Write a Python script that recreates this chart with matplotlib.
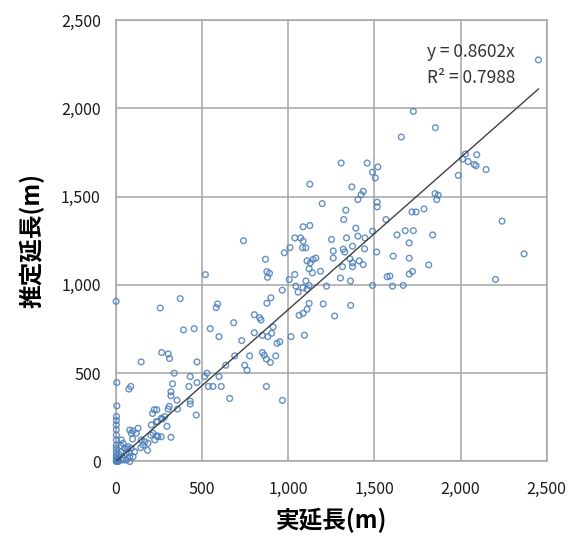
import numpy as np
import matplotlib
matplotlib.use("Agg")
import matplotlib.pyplot as plt
from matplotlib.ticker import FuncFormatter

plt.rcParams['font.family'] = ['Noto Sans CJK JP', 'DejaVu Sans']

actual = [
    # left column near x=0
    1, 5, 5, 3, 2, 2, 2, 2, 2, 2, 2, 2, 2, 2, 2, 2,
    # low cluster
    12, 21, 31, 41, 60, 80, 31, 41, 50, 70, 89, 108, 60, 80, 99, 28, 18, 67, 77, 10, 5, 15, 40,
    80, 99, 128, 118, 89, 147, 167, 186, 157, 215, 244, 263, 225, 205, 234, 263, 283, 202, 237, 144, 183, 96,
    # zoom 4 others
    86, 75, 338, 431, 470, 423, 328, 319, 319, 354, 431, 431, 309, 303, 357, 222, 237, 212, 466, 270, 296, 319, 241,
    # zoom 1 extras
    257, 373, 392, 265, 303, 311, 146, 660, 966,
    # zoom 5
    454, 582, 590, 547, 598, 683, 470, 730, 803, 834, 842, 876, 899, 965, 912, 904, 881, 850, 803, 935,
    776, 689, 637, 747, 761, 850, 861, 873, 896, 927, 528, 514, 598, 563, 536, 611, 873,
    # zoom 7
    740, 519, 868, 977, 876, 891, 880,
    # zoom 6
    1125, 1369, 1435, 1423, 1404, 1516, 1516, 1197, 1334, 1322, 1086, 1125, 1392, 1489, 1038, 1071, 1086,
    1251, 1338, 1404, 1445, 1010, 1083, 1102, 1261, 1319, 1328, 1373, 1443, 1513, 1261, 1109, 1128, 1144,
    1160, 1358, 1373, 1412, 1435, 1315, 1373, 1121, 1140, 1187, 1038, 1006, 1102, 1121, 1086, 1303, 1361,
    1044, 1057, 1109, 1222, 1489,
    # zoom 2
    1726, 1854, 1656, 1307, 1458, 1520, 1489, 1505, 1852, 1870, 1862, 1788, 1718, 1742, 1567, 1631, 1679,
    1726, 1838, 1702, 1609, 1702, 1815, 1702, 1721, 1574, 1590, 1605, 1667, 1121, 1109, 1086, 1063, 1203,
    1362, 1269, 1016, 1094, 951,
    # zoom 3
    2452, 2028, 2012, 2044, 2094, 2079, 2090, 2148, 1987, 2241, 2369, 2203,
]
estimated = [
    907, 447, 315, 255, 232, 207, 150, 122, 93, 75, 55, 37, 22, 8, 0, 180,
    0, 27, 55, 8, 8, 0, 122, 103, 75, 84, 75, 55, 46, 27, 27, 89, 42, 71, 48, 15, 5, 3, 20,
    178, 173, 188, 160, 160, 122, 112, 103, 93, 160, 140, 140, 122, 207, 225, 245, 254, 150, 146, 78, 63, 127,
    425, 410, 500, 481, 447, 425, 440, 395, 372, 347, 342, 325, 312, 297, 297, 293, 293, 272, 263, 240, 199, 137, 225,
    869, 922, 745, 617, 609, 583, 564, 357, 346,
    752, 871, 892, 752, 707, 786, 564, 685, 831, 814, 801, 896, 927, 970, 762, 726, 707, 714, 729, 669,
    598, 598, 545, 545, 517, 617, 602, 580, 561, 598, 500, 481, 481, 425, 425, 425, 425,
    1250, 1058, 1145, 1182, 1075, 1066, 1043,
    1570, 1555, 1530, 1511, 1483, 1468, 1442, 1460, 1423, 1370, 1329, 1336, 1321, 1304, 1266, 1266, 1248,
    1257, 1266, 1276, 1266, 1211, 1210, 1210, 1192, 1202, 1186, 1219, 1204, 1186, 1152, 1136, 1125, 1144,
    1152, 1148, 1125, 1136, 1115, 1103, 1103, 1091, 1068, 1077, 1059, 1030, 1022, 997, 984, 1039, 1022,
    993, 959, 976, 993, 997,
    1982, 1890, 1837, 1690, 1690, 1668, 1638, 1606, 1517, 1508, 1483, 1430, 1413, 1413, 1370, 1283, 1307,
    1307, 1283, 1238, 1163, 1151, 1113, 1061, 1076, 1046, 1050, 993, 997, 895, 862, 839, 828, 892,
    884, 824, 707, 715, 678,
    2274, 1741, 1713, 1698, 1737, 1682, 1675, 1653, 1620, 1361, 1176, 1031,
]
slope = 0.8602
r_squared = 0.7988
x_ticks = [0, 500, 1000, 1500, 2000, 2500]
y_ticks = [0, 500, 1000, 1500, 2000, 2500]
x_label = "実延長(m)"
y_label = "推定延長(m)"

actual = np.array(actual, dtype=float)
estimated = np.array(estimated, dtype=float)

fig = plt.figure(figsize=(5.79, 5.40), dpi=100)
ax = fig.add_axes([0.2003, 0.1454, 0.7439, 0.8176])

ax.set_xlim(0, 2500)
ax.set_ylim(0, 2500)
ax.set_xticks(x_ticks)
ax.set_yticks(y_ticks)
fmt = FuncFormatter(lambda v, p: f"{int(v):,}")
ax.xaxis.set_major_formatter(fmt)
ax.yaxis.set_major_formatter(fmt)
ax.grid(True, color='#a6a6a6', linewidth=1.1, zorder=0)
ax.set_axisbelow(True)
for s in ax.spines.values():
    s.set_color('#a6a6a6')
    s.set_linewidth(1.1)
ax.tick_params(axis='both', length=0, labelsize=11.5, colors='#1a1a1a')
ax.tick_params(axis='x', pad=14)
ax.tick_params(axis='y', pad=11)

ax.scatter(actual, estimated, s=17, facecolors='none', edgecolors='#4a7ebb',
           linewidths=1.0, alpha=0.85, zorder=3, clip_on=False)

xl = np.array([0, actual.max()])
ax.plot(xl, slope * xl, color='#404040', linewidth=1.0, zorder=4)

ax.text(1805, 2320, f"y = {slope:.4f}x", fontsize=12.5, color='#333333',
        va='center', ha='left', zorder=5)
ax.text(1805, 2170, f"R² = {r_squared:.4f}", fontsize=12.5, color='#333333',
        va='center', ha='left', zorder=5)

ax.set_xlabel(x_label, fontsize=17, fontweight='bold')
ax.set_ylabel(y_label, fontsize=17, fontweight='bold')
ax.xaxis.set_label_coords(0.5, -0.105)
ax.yaxis.set_label_coords(-0.195, 0.5)
ax.xaxis.label.set_va('top')
ax.yaxis.label.set_va('center')

fig.savefig("out.png", dpi=100)
